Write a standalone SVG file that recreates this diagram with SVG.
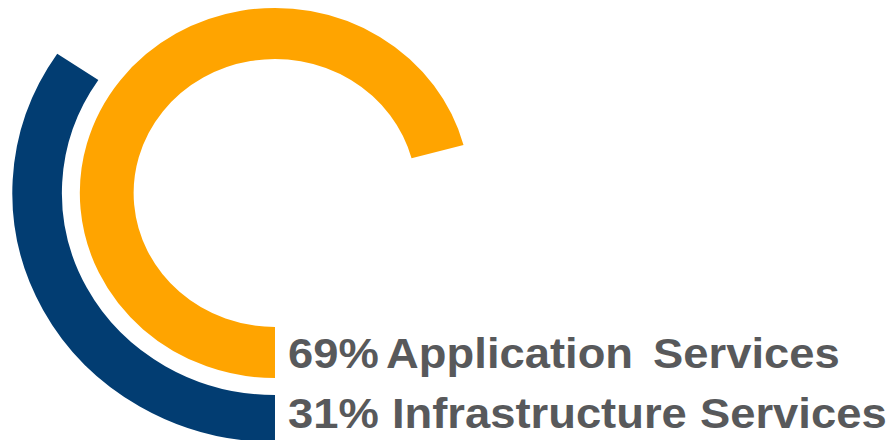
<svg xmlns="http://www.w3.org/2000/svg" width="890" height="440" viewBox="0 0 890 440">
  <style>
    .ring { fill: none; stroke-linecap: butt; }
    .app { stroke: #FFA400; stroke-width: 51; }
    .infra { stroke: #023D72; stroke-width: 47; }
    .lbl { font-family: "Liberation Sans", Arial, sans-serif; font-weight: bold; font-size: 43px; fill: #58595B; }
  </style>
  <rect width="890" height="440" fill="#FFFFFF"/>
  <g transform="translate(275,193) scale(1.055,1)">
    <g id="arc-application">
      <path class="ring app" d="M 0 159.5 A 159.5 159.5 0 1 1 154.07 -41.28"/>
    </g>
    <g id="arc-infrastructure">
      <path class="ring infra" d="M 0 225.5 A 225.5 225.5 0 0 1 -186.94 -126.10"/>
    </g>
  </g>
  <g transform="scale(1.055,1)">
    <g id="label-application">
      <text class="lbl" y="368"><tspan x="273">69%</tspan><tspan x="366">Application</tspan><tspan x="619">Services</tspan></text>
    </g>
    <g id="label-infrastructure">
      <text class="lbl" y="428"><tspan x="273">31%</tspan><tspan x="371.5">Infrastructure</tspan><tspan x="663.5">Services</tspan></text>
    </g>
  </g>
</svg>
